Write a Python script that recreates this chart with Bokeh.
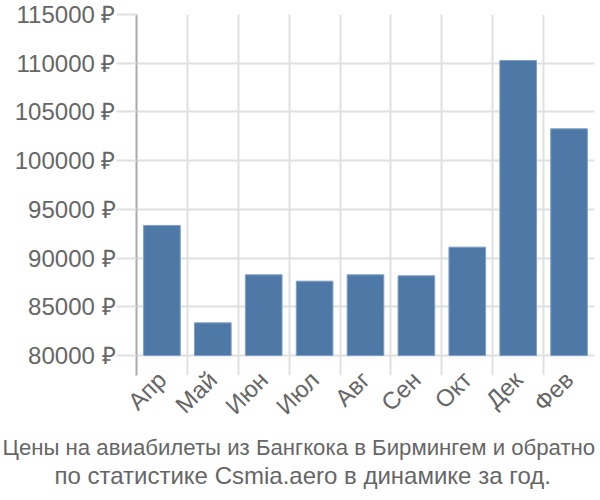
import math
from bokeh.plotting import figure
from bokeh.models import FixedTicker, Range1d, ColumnDataSource, Title
from bokeh.embed import file_html
from bokeh.resources import INLINE

months = ["Апр", "Май", "Июн", "Июл", "Авг", "Сен", "Окт", "Дек", "Фев"]
prices = [93350, 83350, 88280, 87630, 88280, 88180, 91120, 110280, 103270]
y_ticks = [80000, 85000, 90000, 95000, 100000, 105000, 110000, 115000]
y_labels = ["80000 ₽", "85000 ₽", "90000 ₽", "95000 ₽", "100000 ₽", "105000 ₽", "110000 ₽", "115000 ₽"]
title_lines = ["Цены на авиабилеты из Бангкока в Бирмингем и обратно",
               "по статистике Csmia.aero в динамике за год."]

FONT = "Liberation Sans"
GRID = "#e0e0e0"
TEXT = "#666666"

W, H = 600, 500
FT, FB, FL, FR = 14, 375, 136, 594

n = len(months)
xs = [i + 0.5 for i in range(n)]
base = y_ticks[0]
src = ColumnDataSource(dict(x=xs, top=prices, bottom=[base] * n))

frame_h = FB - FT
y_span = y_ticks[-1] - y_ticks[0]
y_start = base - 20 * y_span / (frame_h - 20)

p = figure(width=W, height=H, output_backend="svg", toolbar_location=None,
           x_range=Range1d(0, n), y_range=Range1d(y_start, y_ticks[-1]),
           min_border_left=FL, min_border_right=W - FR, min_border_top=FT,
           min_border_bottom=H - FB)
p.outline_line_color = None
p.background_fill_color = "white"

p.vbar(x="x", top="top", bottom="bottom", width=0.72, source=src,
       fill_color="#4e79a7", line_color="#7f9fc4", line_width=1)

# grids
p.xgrid.ticker = FixedTicker(ticks=list(range(n + 1)))
p.xgrid.grid_line_color = GRID
p.xgrid.grid_line_width = 2
p.ygrid.ticker = FixedTicker(ticks=y_ticks)
p.ygrid.grid_line_color = GRID
p.ygrid.grid_line_width = 2

# x axis
xa = p.xaxis[0]
xa.ticker = FixedTicker(ticks=xs)
xa.major_label_overrides = {x: m for x, m in zip(xs, months)}
xa.major_label_orientation = math.pi / 4
xa.axis_line_color = None
xa.major_tick_line_color = None
xa.minor_tick_line_color = None
xa.major_tick_out = 0
xa.major_tick_in = 0
xa.major_label_text_font = FONT
xa.major_label_text_font_size = "24px"
xa.major_label_text_color = TEXT
xa.major_label_standoff = 0

# y axis
ya = p.yaxis[0]
ya.ticker = FixedTicker(ticks=y_ticks)
ya.major_label_overrides = {t: l for t, l in zip(y_ticks, y_labels)}
ya.axis_line_color = "#aaaaaa"
ya.axis_line_width = 2
ya.major_tick_out = 20
ya.major_tick_in = 0
ya.major_tick_line_color = GRID
ya.major_tick_line_width = 2
ya.minor_tick_line_color = None
ya.major_label_text_font = FONT
ya.major_label_text_font_size = "24px"
ya.major_label_text_color = TEXT
ya.major_label_standoff = 1

for line, off, fs in zip(title_lines, [-134, -82], ["22.2px", "24px"]):
    p.add_layout(Title(text=line, align="left", offset=off,
                       text_font=FONT, text_font_size=fs,
                       text_font_style="normal", text_color=TEXT,
                       standoff=0), "below")

open("out.html", "w").write(file_html(p, INLINE))
